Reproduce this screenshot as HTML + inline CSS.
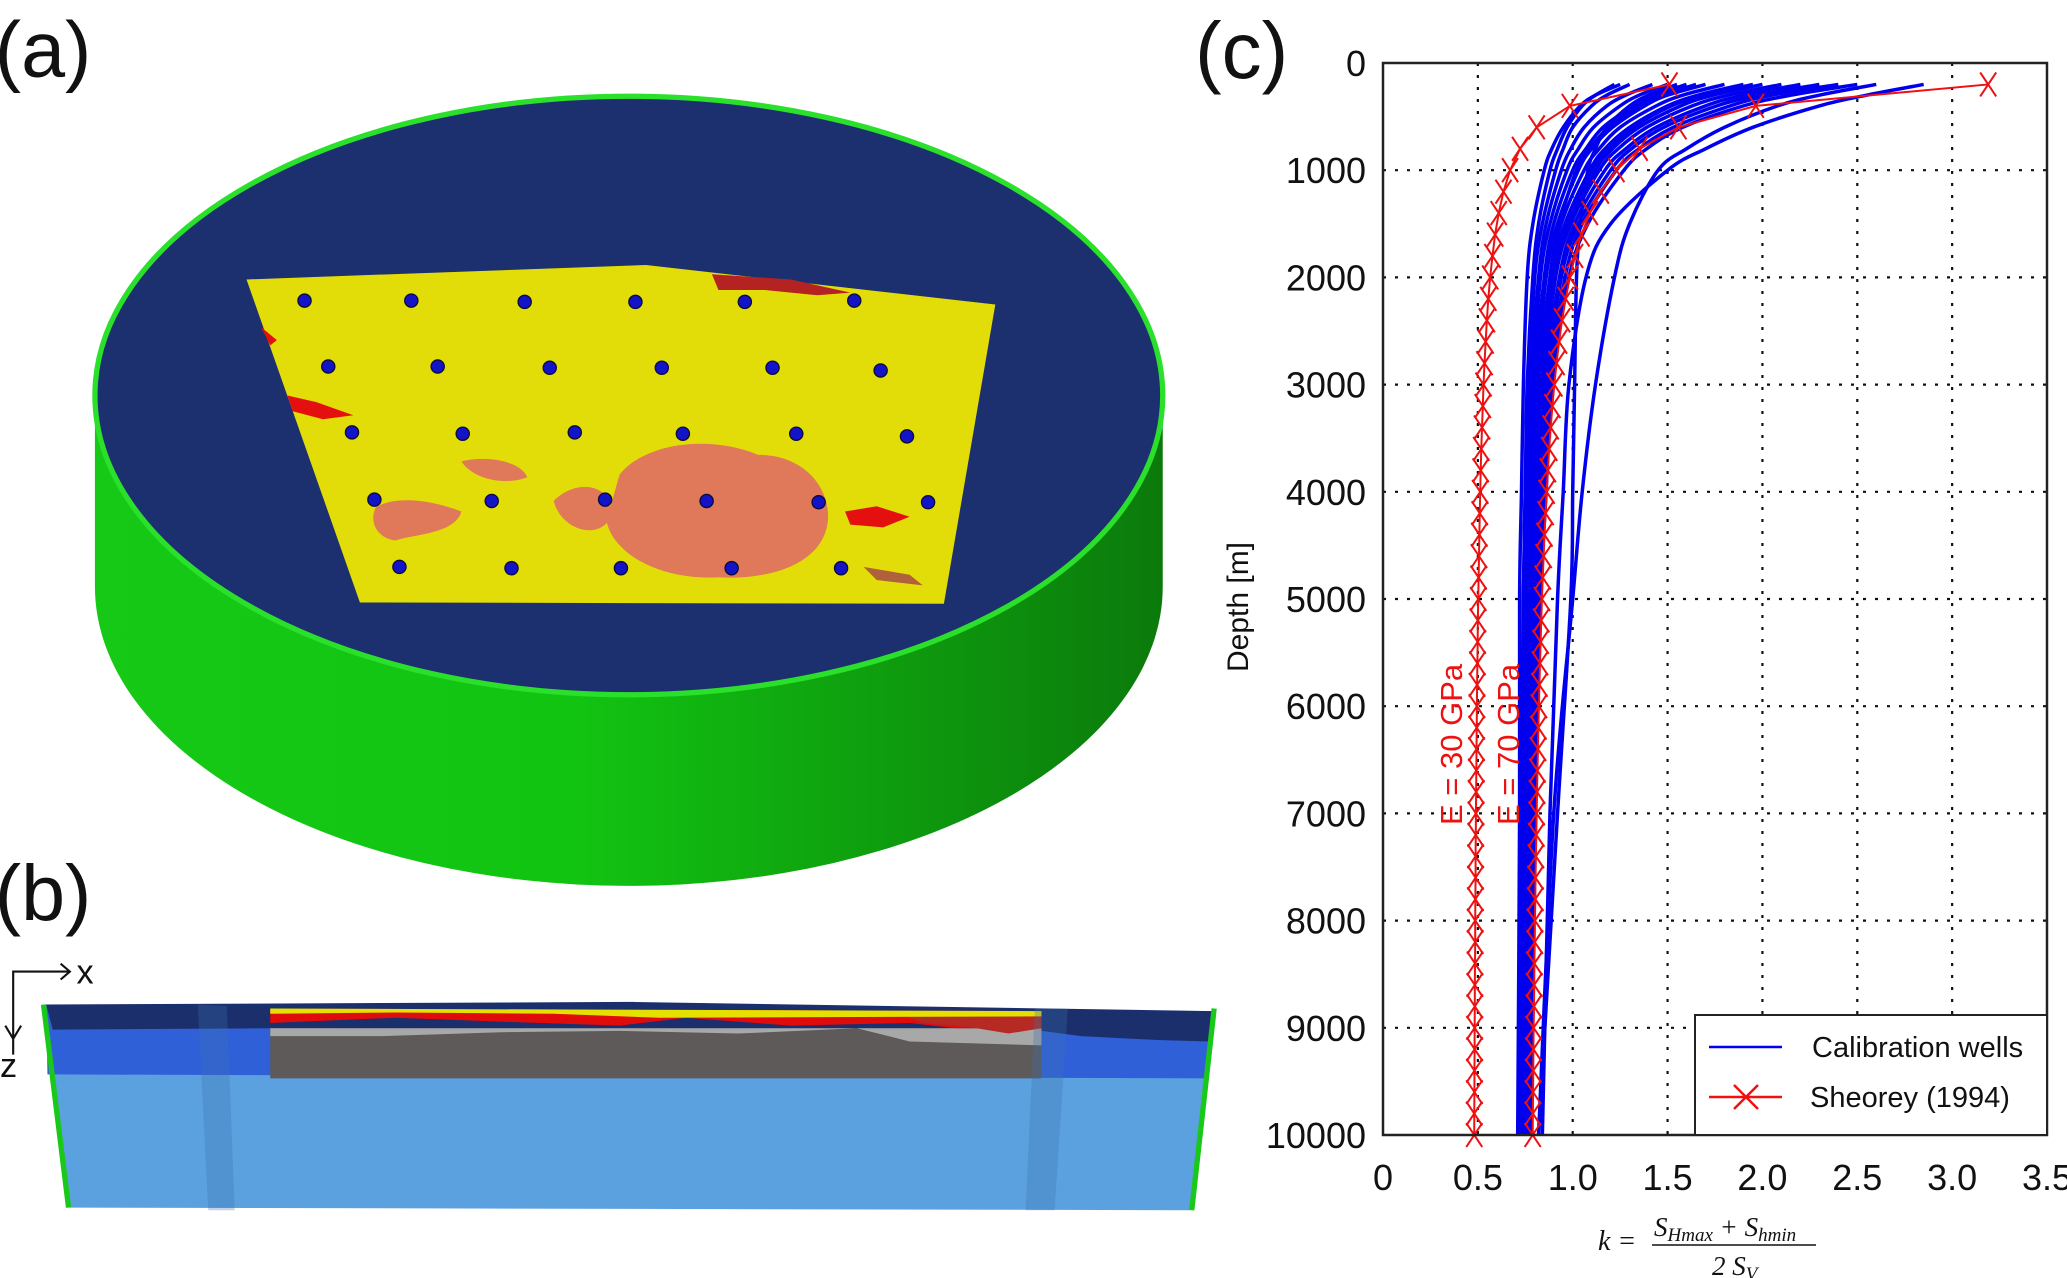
<!DOCTYPE html>
<html><head><meta charset="utf-8"><style>
html,body{margin:0;padding:0;background:#fff;}
body{width:2067px;height:1278px;overflow:hidden;position:relative;font-family:"Liberation Sans",sans-serif;}
svg{position:absolute;left:0;top:0;}
</style></head><body>
<svg width="2067" height="1278" viewBox="0 0 2067 1278">
<defs>
<linearGradient id="gs" x1="0" x2="1" y1="0" y2="0">
<stop offset="0" stop-color="#17c917"/><stop offset="0.45" stop-color="#12c412"/><stop offset="1" stop-color="#0b7a0b"/>
</linearGradient>
</defs>
<g transform="scale(1.3183)">
<text x="-4" y="58" font-size="60" fill="#111">(a)</text>
<text x="-4" y="698" font-size="60" fill="#111">(b)</text>
<g>
<path d="M72,300 L72,445 A405,227 0 0 0 882,445 L882,300 Z" fill="url(#gs)"/>
<ellipse cx="477" cy="300" rx="405" ry="227" fill="#1c2f6e" stroke="#2be02b" stroke-width="4"/>
<polygon points="187,212 490,201 755,231 716,458 273,457" fill="#e2dd08"/>
<path d="M470,360 C490,335 540,330 575,345 C610,345 630,370 628,395 C625,425 590,440 545,438 C500,440 465,420 460,395 Z" fill="#e0785a"/>
<path d="M420,380 C440,360 470,370 462,395 C450,410 425,400 420,380 Z" fill="#e0785a"/>
<path d="M285,385 C300,375 330,380 350,388 C345,405 315,405 300,410 C285,408 280,395 285,385Z" fill="#e0785a"/>
<path d="M350,350 C370,345 395,350 400,362 C385,368 360,365 350,350Z" fill="#e0785a"/>
<path d="M540,208 L600,212 L645,222 L620,224 L580,220 L545,220Z" fill="#b52222"/>
<path d="M218,300 L240,305 L268,315 L245,318 L222,312Z" fill="#e41010"/>
<path d="M641,388 L665,384 L690,392 L670,400 L645,398Z" fill="#e41010"/>
<path d="M198,248 L210,258 L205,262Z" fill="#e41010"/>
<path d="M655,430 L690,436 L700,444 L665,440Z" fill="#b0603a"/>
<g fill="#1313c8" stroke="#0a0a3a" stroke-width="1">
<circle cx="231" cy="228" r="5"/><circle cx="312" cy="228" r="5"/><circle cx="398" cy="229" r="5"/><circle cx="482" cy="229" r="5"/><circle cx="565" cy="229" r="5"/><circle cx="648" cy="228" r="5"/>
<circle cx="249" cy="278" r="5"/><circle cx="332" cy="278" r="5"/><circle cx="417" cy="279" r="5"/><circle cx="502" cy="279" r="5"/><circle cx="586" cy="279" r="5"/><circle cx="668" cy="281" r="5"/>
<circle cx="267" cy="328" r="5"/><circle cx="351" cy="329" r="5"/><circle cx="436" cy="328" r="5"/><circle cx="518" cy="329" r="5"/><circle cx="604" cy="329" r="5"/><circle cx="688" cy="331" r="5"/>
<circle cx="284" cy="379" r="5"/><circle cx="373" cy="380" r="5"/><circle cx="459" cy="379" r="5"/><circle cx="536" cy="380" r="5"/><circle cx="621" cy="381" r="5"/><circle cx="704" cy="381" r="5"/>
<circle cx="303" cy="430" r="5"/><circle cx="388" cy="431" r="5"/><circle cx="471" cy="431" r="5"/><circle cx="555" cy="431" r="5"/><circle cx="638" cy="431" r="5"/>
</g>
</g>
<g>
<polygon points="35,762 920,767 903,918 52,916" fill="#5ba1df"/>
<polygon points="35,762 920,767 916,818 36,815" fill="#3060d8"/>
<polygon points="35,762 480,760 920,767 918,790 880,789 820,786 790,782 205,780 40,781" fill="#1b2f6c"/>
<rect x="205" y="780" width="585" height="38" fill="#5d5a59"/>
<path d="M205,780 L790,780 L790,793 L690,790 L650,780 L560,784 L470,782 L380,783 L290,786 L205,786Z" fill="#a8a8a8"/>
<path d="M205,765 L790,767 L790,780 L725,780 L690,776 L600,778 L520,772 L470,778 L380,775 L300,772 L205,776Z" fill="#e00c0c"/>
<path d="M680,768 L790,768 L790,780 L765,784 L735,779 L700,776Z" fill="#b52a22"/>
<path d="M205,765 L790,767 L790,771 L500,772 L420,769 L300,768 L205,769Z" fill="#e6e000"/>
<polygon points="150,762 172,763 178,918 158,918" fill="#3a6fae" opacity="0.3"/>
<polygon points="785,765 810,765 800,918 778,918" fill="#3a6fae" opacity="0.3"/>
<line x1="33" y1="762" x2="52" y2="916" stroke="#19c819" stroke-width="4"/>
<line x1="921" y1="765" x2="904" y2="918" stroke="#19c819" stroke-width="4"/>
</g>
<g stroke="#111" stroke-width="1.6" fill="none">
<path d="M10,800 L10,737 L52,737 M46,731 L53,737 L46,743 M4,778 L10,788 L16,778"/>
</g>
<text x="58" y="746" font-size="26" fill="#111">x</text>
<text x="0" y="817" font-size="26" fill="#111">z</text>
</g>
<text x="1195" y="78" font-size="80" fill="#111">(c)</text>
<g id="chart"></g>
<g font-family="Liberation Serif, serif" font-style="italic" fill="#111">
<text x="1598" y="1250" font-size="28">k =</text>
<text x="1654" y="1236" font-size="27">S<tspan font-size="19" dy="5">Hmax</tspan><tspan dy="-5"> + S</tspan><tspan font-size="19" dy="5">hmin</tspan></text>
<line x1="1652" x2="1816" y1="1245" y2="1245" stroke="#111" stroke-width="1.5"/>
<text x="1712" y="1275" font-size="27">2 S<tspan font-size="19" dy="5">V</tspan></text>
</g>
</svg>
<script>
const xTicks=[0,0.5,1.0,1.5,2.0,2.5,3.0,3.5];
const xTickLabels=["0","0.5","1.0","1.5","2.0","2.5","3.0","3.5"];
const yTicks=[0,1000,2000,3000,4000,5000,6000,7000,8000,9000,10000];
const wellDepths=[200,300,400,600,800,1000,1500,2000,3000,4000,5000,7000,10000];
const w1=[1.22,1.12,1.05,0.97,0.92,0.88,0.82,0.79,0.76,0.75,0.74,0.73,0.72];
const w2=[1.3,1.18,1.1,1.0,0.95,0.91,0.84,0.8,0.77,0.75,0.74,0.73,0.72];
const w3=[1.42,1.28,1.18,1.06,0.99,0.94,0.86,0.82,0.78,0.76,0.75,0.74,0.73];
const w4=[1.5,1.35,1.25,1.11,1.03,0.97,0.88,0.83,0.79,0.77,0.76,0.75,0.73];
const w5=[1.6,1.43,1.32,1.16,1.07,1.0,0.9,0.85,0.8,0.78,0.77,0.75,0.74];
const w6=[1.7,1.5,1.38,1.21,1.1,1.03,0.92,0.86,0.81,0.79,0.77,0.76,0.74];
const w7=[1.8,1.58,1.44,1.25,1.14,1.06,0.94,0.88,0.82,0.8,0.78,0.76,0.75];
const w8=[1.9,1.66,1.5,1.3,1.17,1.09,0.96,0.89,0.83,0.8,0.79,0.77,0.75];
const w9=[2.0,1.74,1.57,1.35,1.21,1.12,0.98,0.9,0.84,0.81,0.79,0.77,0.76];
const w10=[2.1,1.82,1.63,1.39,1.24,1.14,0.99,0.91,0.85,0.82,0.8,0.78,0.76];
const w11=[2.2,1.9,1.7,1.44,1.28,1.17,1.01,0.93,0.86,0.83,0.81,0.78,0.77];
const w12=[2.3,1.98,1.76,1.48,1.31,1.2,1.03,0.94,0.87,0.84,0.82,0.79,0.77];
const w13=[2.5,2.15,1.9,1.58,1.39,1.27,1.08,0.98,0.89,0.86,0.83,0.8,0.78];
const w14=[2.85,2.55,2.3,1.95,1.7,1.5,1.2,1.07,0.98,0.95,0.92,0.88,0.84];
const w15=[2.6,2.3,2.08,1.8,1.6,1.45,1.3,1.22,1.12,1.05,1.0,0.9,0.82];
const w16=[1.55,1.4,1.3,1.18,1.12,1.08,1.04,1.02,1.01,1.0,0.99,0.92,0.82];
const w17=[1.25,1.12,1.04,0.95,0.89,0.85,0.79,0.76,0.74,0.73,0.72,0.72,0.71];
const w18=[1.95,1.7,1.52,1.32,1.19,1.1,0.97,0.9,0.84,0.82,0.8,0.78,0.76];
const w19=[1.65,1.47,1.35,1.19,1.09,1.02,0.93,0.88,0.83,0.8,0.78,0.76,0.75];
const w20=[2.4,2.05,1.83,1.53,1.35,1.23,1.05,0.96,0.88,0.85,0.83,0.8,0.78];
const wells=[w1,w2,w3,w4,w5,w6,w7,w8,w9,w10,w11,w12,w13,w14,w15,w16,w17,w18,w19,w20];
const sheoreyDepths=[200,400,600,800,1000,1200,1400,1600,1800,2000,2200,2400,2600,2800,3000,3200,3400,3600,3800,4000,4200,4400,4600,4800,5000,5200,5400,5600,5800,6000,6200,6400,6600,6800,7000,7200,7400,7600,7800,8000,8200,8400,8600,8800,9000,9200,9400,9600,9800,10000];
const sheorey30=[1.51,0.985,0.81,0.7225,0.67,0.635,0.61,0.591,0.577,0.565,0.555,0.5475,0.541,0.535,0.53,0.526,0.522,0.518,0.515,0.5125,0.51,0.508,0.506,0.504,0.502,0.5,0.499,0.4975,0.496,0.495,0.494,0.493,0.492,0.491,0.49,0.489,0.488,0.488,0.487,0.486,0.486,0.485,0.484,0.484,0.483,0.483,0.482,0.482,0.481,0.481];
const sheorey70=[3.19,1.965,1.557,1.3525,1.23,1.148,1.09,1.046,1.012,0.985,0.963,0.944,0.928,0.915,0.903,0.893,0.884,0.876,0.869,0.8625,0.857,0.851,0.847,0.842,0.838,0.834,0.831,0.8275,0.8245,0.822,0.819,0.817,0.814,0.812,0.81,0.808,0.806,0.804,0.803,0.801,0.8,0.798,0.797,0.796,0.794,0.793,0.792,0.791,0.79,0.789];

const L=1383,R=2047,T=63,B=1135;
const X=k=>L+(k/3.5)*(R-L);
const Y=d=>T+(d/10000)*(B-T);
const NS='http://www.w3.org/2000/svg';
const g=document.getElementById('chart');
function mk(tag,attrs,parent){const e=document.createElementNS(NS,tag);for(const k in attrs)e.setAttribute(k,attrs[k]);(parent||g).appendChild(e);return e;}
function smooth(pts){let d=`M${pts[0][0]},${pts[0][1]}`;
 for(let i=0;i<pts.length-1;i++){const p0=pts[i-1]||pts[i],p1=pts[i],p2=pts[i+1],p3=pts[i+2]||p2;
  const c1=[p1[0]+(p2[0]-p0[0])/6,p1[1]+(p2[1]-p0[1])/6],c2=[p2[0]-(p3[0]-p1[0])/6,p2[1]-(p3[1]-p1[1])/6];
  d+=`C${c1[0]},${c1[1]} ${c2[0]},${c2[1]} ${p2[0]},${p2[1]}`;}
 return d;}

const clip=mk('clipPath',{id:'pc'});mk('rect',{x:L,y:T,width:R-L,height:B-T},clip);
xTicks.forEach((t,i)=>{
 if(i>0&&i<xTicks.length-1){const l=mk('line',{x1:X(t),x2:X(t),y1:T,y2:B,stroke:'#111','stroke-width':2.2,'stroke-dasharray':'3 9'});
 
 }
 const tx=mk('text',{x:X(t),y:1190,'font-size':36,'text-anchor':'middle',fill:'#111'});tx.textContent=xTickLabels[i];
 
 
});
yTicks.forEach(t=>{
 if(t>0&&t<10000){const l=mk('line',{x1:L,x2:R,y1:Y(t),y2:Y(t),stroke:'#111','stroke-width':2.2,'stroke-dasharray':'3 9'});
 
 }
 const tx=mk('text',{x:1366,y:Y(t)+13,'font-size':36,'text-anchor':'end',fill:'#111'});tx.textContent=String(t);
 
 
});
const pg=mk('g',{'clip-path':'url(#pc)'});
wells.forEach(w=>{
 const p=mk('path',{d:smooth(w.map((k,i)=>[X(k),Y(wellDepths[i])])),fill:'none',stroke:'#0000ee','stroke-width':3.5,'stroke-linejoin':'round'},pg);
 
 
});
function sheo(arr,name){
 const p=mk('polyline',{points:arr.map((k,i)=>X(k)+','+Y(sheoreyDepths[i])).join(' '),fill:'none',stroke:'#ee1111','stroke-width':2});
 
 
 arr.forEach((k,i)=>{const x=X(k),y=Y(sheoreyDepths[i]);
  const m=mk('path',{d:`M${x-8},${y-12}L${x+8},${y+12}M${x+8},${y-12}L${x-8},${y+12}`,stroke:'#ee1111','stroke-width':2,fill:'none'});
  
  
 });
}
sheo(sheorey30,'sheorey-e30-line');
sheo(sheorey70,'sheorey-e70-line');
const frame=mk('rect',{x:L,y:T,width:R-L,height:B-T,fill:'none',stroke:'#222','stroke-width':2.5});


function rot(txt,x,y,name){const t=mk('text',{x:x,y:y,'font-size':31,fill:'#ee1111',transform:`rotate(-90 ${x} ${y})`});t.textContent=txt;
 
 }
rot('E = 30 GPa',1462,825,'e30-annotation');
rot('E = 70 GPa',1519,825,'e70-annotation');
const yt=mk('text',{x:1248,y:607,'font-size':30,'text-anchor':'middle',fill:'#111',transform:'rotate(-90 1248 607)'});yt.textContent='Depth [m]';


const lg=mk('g',{});


mk('rect',{x:1695,y:1015,width:352,height:120,fill:'#fff',stroke:'#222','stroke-width':2},lg);
const l1=mk('line',{x1:1709,x2:1782,y1:1047,y2:1047,stroke:'#0000ee','stroke-width':2.5},lg);


const t1=mk('text',{x:1812,y:1057,'font-size':29,fill:'#111'},lg);t1.textContent='Calibration wells';
const l2=mk('path',{d:'M1709,1097L1782,1097M1734,1085L1758,1109M1758,1085L1734,1109',stroke:'#ee1111','stroke-width':2.5,fill:'none'},lg);


const t2=mk('text',{x:1810,y:1107,'font-size':29,fill:'#111'},lg);t2.textContent='Sheorey (1994)';
</script>
</body></html>
